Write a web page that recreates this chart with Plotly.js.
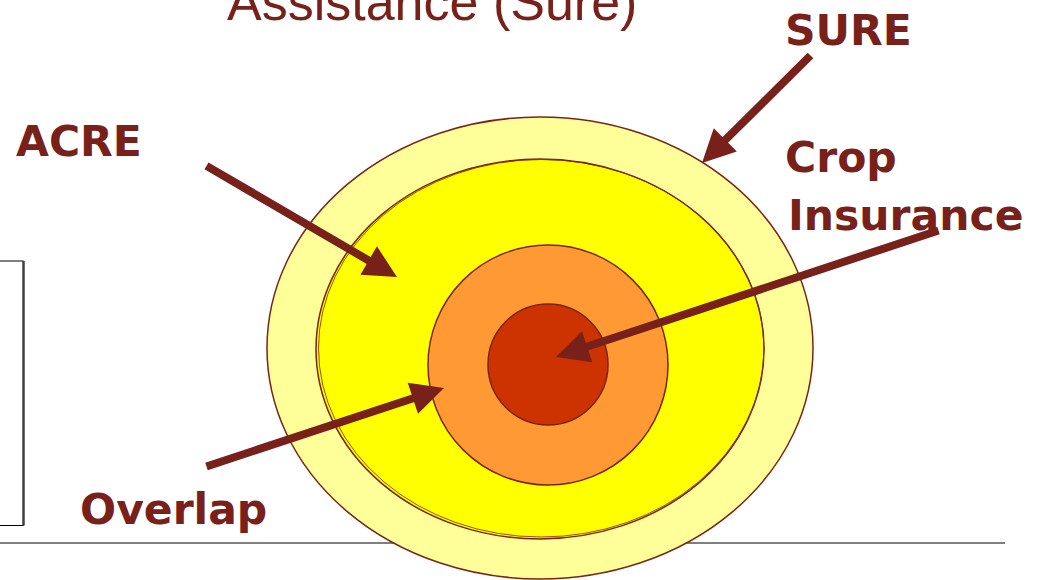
<!DOCTYPE html>
<html>
<head>
<meta charset="utf-8">
<script src="https://cdn.plot.ly/plotly-3.0.1.min.js"></script>
<style>
  html, body { margin: 0; padding: 0; background: #ffffff; }
  #chart { width: 1047px; height: 580px; }
</style>
</head>
<body>
<div id="chart"></div>
<script>
// Nested programme rings, outermost first
const ringNames  = ['SURE', 'ACRE', 'Overlap', 'Crop Insurance'];
const ringColors = ['#FFFF99', '#FFFF00', '#FF9933', '#CC3300'];
const ringX0 = [267, 316, 428, 488];
const ringX1 = [813, 764, 668, 608];
const ringY0 = [117, 159, 245, 304];
const ringY1 = [579, 539, 485, 425];

// Callout labels
const labelText = ['SURE', 'ACRE', 'Crop', 'Insurance', 'Overlap'];
const labelX    = [783, 14, 783, 786, 78];
const labelY    = [30, 141, 157, 215, 509];

// Callout arrows: tail (ax, ay) to head (x, y)
const arrowTailX = [812, 205, 940, 205];
const arrowTailY = [54, 165, 230, 467];
const arrowHeadX = [702, 397, 556, 444];
const arrowHeadY = [163, 277, 357, 388];

const titleText = 'Assistance (Sure)';

const ink = '#78211A';
const edge = '#7A2418';

const shapes = [];
// rule across the slide, beneath the rings
shapes.push({type: 'line', xref: 'x', yref: 'y', x0: 0, x1: 1005, y0: 543, y1: 543,
             line: {color: '#7F7F7F', width: 2}});
// framed panel at the left edge
shapes.push({type: 'rect', xref: 'x', yref: 'y', x0: -10, x1: 23.5, y0: 261, y1: 525.5,
             line: {color: '#000000', width: 1}, fillcolor: 'rgba(0,0,0,0)'});
shapes.push({type: 'line', xref: 'x', yref: 'y', x0: 23.5, x1: 23.5, y0: 261, y1: 525.5,
             line: {color: '#404040', width: 2.5}});

ringNames.forEach(function (name, i) {
  shapes.push({
    type: 'circle', xref: 'x', yref: 'y',
    x0: ringX0[i], x1: ringX1[i], y0: ringY0[i], y1: ringY1[i],
    fillcolor: ringColors[i],
    line: {color: edge, width: 1.5}
  });
  if (i === 1) {
    // second outline traced along the upper-left of the ACRE ring
    shapes.push({
      type: 'circle', xref: 'x', yref: 'y',
      x0: ringX0[i] + 2.5, x1: ringX1[i], y0: ringY0[i] + 0.5, y1: ringY1[i] - 2,
      fillcolor: 'rgba(0,0,0,0)',
      line: {color: edge, width: 0.8}
    });
  }
});

const annotations = [];
annotations.push({
  xref: 'x', yref: 'y', x: 225, y: 2, xanchor: 'left', yanchor: 'middle',
  text: titleText, showarrow: false,
  font: {family: 'Liberation Sans, Arial, sans-serif', size: 52, color: ink}
});
labelText.forEach(function (t, i) {
  annotations.push({
    xref: 'x', yref: 'y', x: labelX[i], y: labelY[i], xanchor: 'left', yanchor: 'middle',
    text: '<b>' + t + '</b>', showarrow: false,
    font: {family: 'DejaVu Sans, sans-serif', size: 42.5, color: ink}
  });
});
arrowHeadX.forEach(function (hx, i) {
  annotations.push({
    xref: 'x', yref: 'y', axref: 'x', ayref: 'y',
    x: hx, y: arrowHeadY[i], ax: arrowTailX[i], ay: arrowTailY[i],
    text: '', showarrow: true, arrowhead: 2, arrowsize: 0.82, arrowwidth: 8,
    arrowcolor: ink, standoff: 0, startstandoff: 0
  });
});

const layout = {
  width: 1047, height: 580,
  margin: {l: 0, r: 0, t: 0, b: 0},
  paper_bgcolor: '#ffffff', plot_bgcolor: '#ffffff',
  showlegend: false,
  xaxis: {range: [0, 1047], visible: false, fixedrange: true},
  yaxis: {range: [580, 0], visible: false, fixedrange: true},
  shapes: shapes,
  annotations: annotations
};

Plotly.newPlot('chart', [], layout, {displayModeBar: false, staticPlot: true});
</script>
</body>
</html>
